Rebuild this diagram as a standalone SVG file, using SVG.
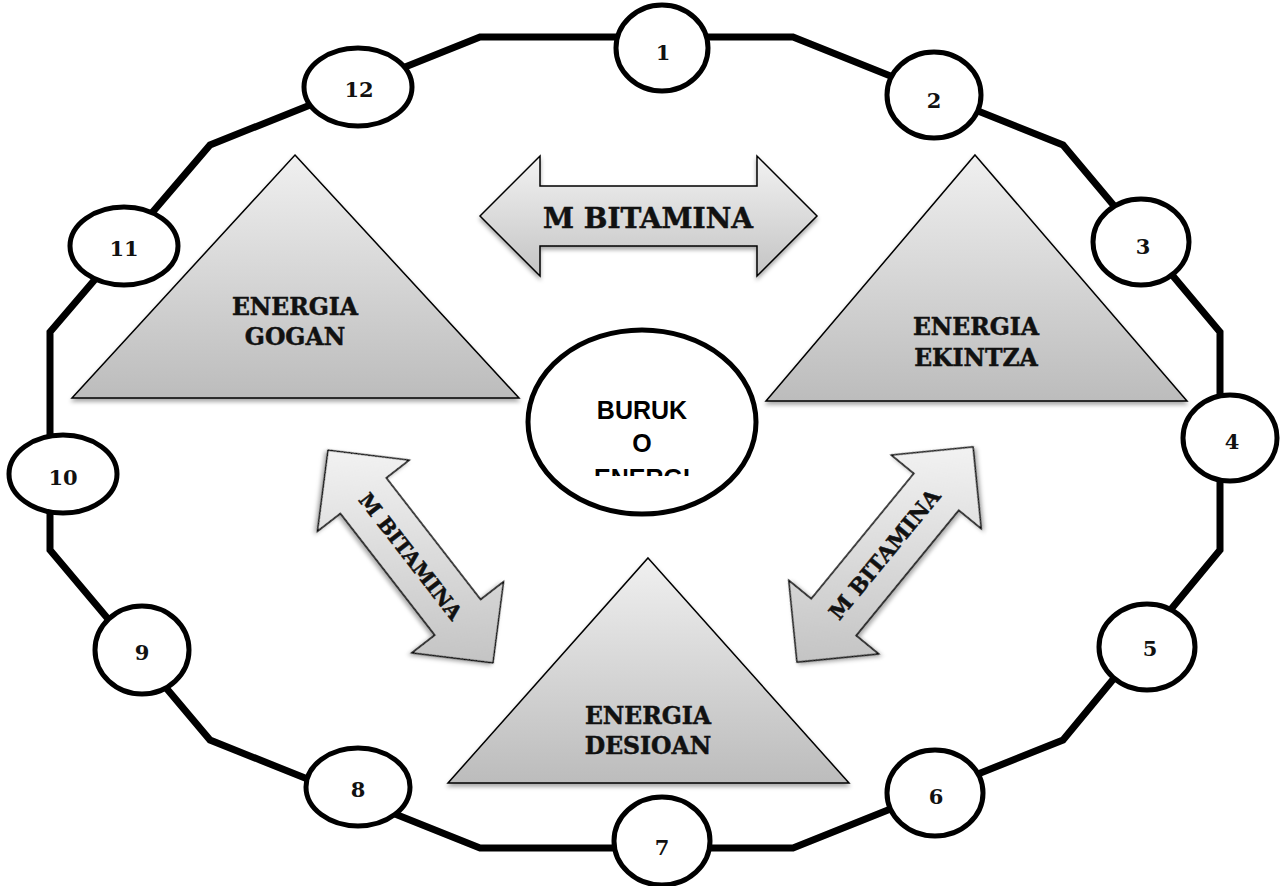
<svg xmlns="http://www.w3.org/2000/svg" width="1282" height="886" viewBox="0 0 1282 886">
  <defs>
    <style>
      .ring { fill: none; stroke: #000; stroke-width: 7; stroke-linejoin: miter; }
      .num-shape { fill: #fff; stroke: #000; stroke-width: 5; }
      .num { font-family: "DejaVu Serif", "Liberation Serif", serif; font-weight: bold; font-size: 21px; text-anchor: middle; fill: #111; }
      .tri { fill: url(#triFill); stroke: #000; stroke-width: 1.5; filter: url(#softShadow); }
      .tri-label { font-family: "DejaVu Serif", "Liberation Serif", serif; font-weight: bold; font-size: 23.5px; text-anchor: middle; fill: #111; stroke: #111; stroke-width: 0.5; }
      .arrow { stroke: #000; stroke-width: 1.5; stroke-linejoin: miter; filter: url(#softShadow); }
      .arrow-label { font-family: "DejaVu Serif", "Liberation Serif", serif; font-weight: bold; text-anchor: middle; fill: #111; stroke: #111; stroke-width: 0.5; }
      .core { fill: #fff; stroke: #000; stroke-width: 5; }
      .core-label { font-family: "Liberation Sans", Arial, sans-serif; font-weight: bold; font-size: 25px; text-anchor: middle; fill: #000; }
    </style>
    <linearGradient id="triFill" x1="0" y1="0" x2="0" y2="1">
      <stop offset="0" stop-color="#f0f0f0"/>
      <stop offset="1" stop-color="#bcbcbc"/>
    </linearGradient>
    <linearGradient id="arrowFillH" x1="0" y1="0" x2="0" y2="1">
      <stop offset="0" stop-color="#f2f2f2"/>
      <stop offset="1" stop-color="#c4c4c4"/>
    </linearGradient>
    <!-- screen-vertical gradients expressed in each rotated arrow's local frame -->
    <linearGradient id="arrowFillL" gradientUnits="userSpaceOnUse" x1="-84" y1="-65" x2="84" y2="65">
      <stop offset="0" stop-color="#f2f2f2"/>
      <stop offset="1" stop-color="#c4c4c4"/>
    </linearGradient>
    <linearGradient id="arrowFillR" gradientUnits="userSpaceOnUse" x1="84" y1="-68" x2="-84" y2="68">
      <stop offset="0" stop-color="#f2f2f2"/>
      <stop offset="1" stop-color="#c4c4c4"/>
    </linearGradient>
    <filter id="softShadow" x="-10%" y="-10%" width="120%" height="130%">
      <feDropShadow dx="0" dy="3" stdDeviation="2" flood-color="#000" flood-opacity="0.35"/>
    </filter>
    <clipPath id="coreClip">
      <rect x="580" y="380" width="130" height="96"/>
    </clipPath>
  </defs>

  <!-- outer ring linking the twelve stations -->
  <g id="connectors">
    <polygon class="ring" points="480,37 793,37 1063,145 1220,332 1220,550 1063,740 793,848 480,848 210,740 50,550 50,332 210,145"/>
  </g>

  <!-- numbered stations -->
  <g id="node-1"><ellipse class="num-shape" cx="662" cy="48" rx="46" ry="43"/><text class="num" x="663" y="60">1</text></g>
  <g id="node-2"><ellipse class="num-shape" cx="934" cy="95" rx="47" ry="43"/><text class="num" x="934" y="108">2</text></g>
  <g id="node-3"><ellipse class="num-shape" cx="1141" cy="242" rx="48" ry="43"/><text class="num" x="1143" y="254">3</text></g>
  <g id="node-4"><ellipse class="num-shape" cx="1230" cy="438" rx="47" ry="43"/><text class="num" x="1232" y="449">4</text></g>
  <g id="node-5"><ellipse class="num-shape" cx="1147" cy="647" rx="48" ry="43"/><text class="num" x="1150" y="656">5</text></g>
  <g id="node-6"><ellipse class="num-shape" cx="935" cy="793" rx="48" ry="43"/><text class="num" x="936" y="804">6</text></g>
  <g id="node-7"><ellipse class="num-shape" cx="662" cy="841" rx="48" ry="44"/><text class="num" x="662" y="855">7</text></g>
  <g id="node-8"><ellipse class="num-shape" cx="358" cy="787" rx="52" ry="39"/><text class="num" x="358" y="797">8</text></g>
  <g id="node-9"><ellipse class="num-shape" cx="142" cy="650" rx="47" ry="44"/><text class="num" x="142" y="660">9</text></g>
  <g id="node-10"><ellipse class="num-shape" cx="63" cy="474" rx="54" ry="39"/><text class="num" x="63" y="485">10</text></g>
  <g id="node-11"><ellipse class="num-shape" cx="124" cy="246" rx="54" ry="39"/><text class="num" x="124" y="256">11</text></g>
  <g id="node-12"><ellipse class="num-shape" cx="358" cy="87" rx="54" ry="39"/><text class="num" x="359" y="97">12</text></g>

  <!-- energy triangles -->
  <g id="energia-gogan">
    <polygon class="tri" points="295,155 519,398 72,398"/>
    <text class="tri-label" x="295" y="315">ENERGIA</text>
    <text class="tri-label" x="295" y="345">GOGAN</text>
  </g>
  <g id="energia-ekintza">
    <polygon class="tri" points="975,155 1187,401 766,401"/>
    <text class="tri-label" x="976" y="335">ENERGIA</text>
    <text class="tri-label" x="976" y="366">EKINTZA</text>
  </g>
  <g id="energia-desioan">
    <polygon class="tri" points="648,558 849,783 448,783"/>
    <text class="tri-label" x="648" y="724">ENERGIA</text>
    <text class="tri-label" x="648" y="754">DESIOAN</text>
  </g>

  <!-- two-way arrows -->
  <g id="arrow-top">
    <polygon class="arrow" fill="url(#arrowFillH)" points="480,216 540,156 540,186 757,186 757,156 817,216 757,276 757,246 540,246 540,276"/>
    <text class="arrow-label" x="648" y="228" font-size="28">M BITAMINA</text>
  </g>
  <g id="arrow-left" transform="translate(410.5,556.5) rotate(52.2)">
    <polygon class="arrow" fill="url(#arrowFillL)" points="-134.5,0 -77,-58 -77,-29 77,-29 77,-58 134.5,0 77,58 77,29 -77,29 -77,58"/>
    <text class="arrow-label" x="0" y="7" font-size="20.5">M BITAMINA</text>
  </g>
  <g id="arrow-right" transform="translate(885,554.5) rotate(-50.7)">
    <polygon class="arrow" fill="url(#arrowFillR)" points="-139,0 -81,-58 -81,-29 81,-29 81,-58 139,0 81,58 81,29 -81,29 -81,58"/>
    <text class="arrow-label" x="0" y="7" font-size="21.5">M BITAMINA</text>
  </g>

  <!-- central hub -->
  <g id="buruko-energia">
    <ellipse class="core" cx="642" cy="422" rx="114" ry="92"/>
    <g clip-path="url(#coreClip)">
      <text class="core-label" x="642" y="419">BURUK</text>
      <text class="core-label" x="642" y="452">O</text>
      <text class="core-label" x="642" y="487">ENERGI</text>
    </g>
  </g>
</svg>
